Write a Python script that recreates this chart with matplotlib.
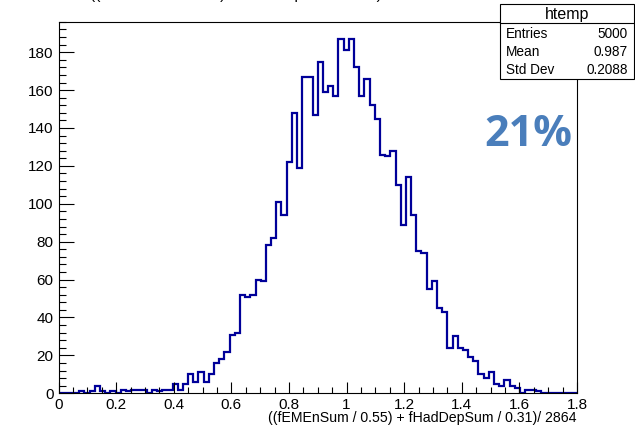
import numpy as np
import matplotlib
matplotlib.use("Agg")
import matplotlib.pyplot as plt
from matplotlib.ticker import MultipleLocator
from matplotlib.patches import Rectangle
from matplotlib.lines import Line2D

# ---- data (100 bins on [0, 1.8]) ----
x_min, x_max, n_bins = 0.0, 1.8, 100
counts = [
    0, 0, 0, 0, 1, 0, 1, 4, 1, 0,
    1, 0, 2, 1, 2, 2, 2, 0, 2, 1,
    2, 2, 5, 2, 5, 10, 6, 11, 6, 10,
    16, 18, 22, 31, 32, 52, 51, 52, 60, 59,
    78, 82, 101, 94, 122, 148, 119, 167, 167, 147,
    175, 159, 162, 157, 187, 181, 187, 172, 157, 166,
    152, 145, 126, 125, 128, 110, 89, 114, 94, 75,
    74, 55, 59, 45, 43, 24, 30, 24, 23, 19,
    17, 10, 8, 11, 5, 4, 7, 4, 3, 0,
    2, 2, 1, 0, 0, 0, 0, 0, 0, 0,
]
hist_name = "htemp"
stat_labels = ["Entries", "Mean", "Std Dev"]
stat_values = ["5000", "0.987", "0.2088"]
expr = "((fEMEnSum / 0.55) + fHadDepSum / 0.31)/ 2864"
annotation = "21%"

plt.rcParams['font.family'] = ['Liberation Sans', 'DejaVu Sans']

W, H = 635, 426
fig = plt.figure(figsize=(W / 100, H / 100), dpi=100)

def fx(px):
    return px / W

def fy(py):
    return 1 - py / H

left, right, top, bottom = 58.5, 577.0, 21.5, 393.3
ax = fig.add_axes([fx(left), fy(bottom), fx(right - left), (bottom - top) / H])

edges = np.linspace(x_min, x_max, n_bins + 1)
ax.stairs(counts, edges, color='#000099', linewidth=1.6, baseline=0)

ax.set_xlim(x_min, x_max)
ax.set_ylim(0, 196.2)
ax.xaxis.set_major_locator(MultipleLocator(0.2))
ax.xaxis.set_minor_locator(MultipleLocator(0.05))
ax.yaxis.set_major_locator(MultipleLocator(20))
ax.yaxis.set_minor_locator(MultipleLocator(4))
ax.xaxis.set_major_formatter(matplotlib.ticker.FuncFormatter(lambda v, p: f"{v:g}"))

ax.tick_params(axis='x', which='major', direction='in', length=8, width=0.8,
               labelsize=11, pad=3.5, top=False)
ax.tick_params(axis='x', which='minor', direction='in', length=4, width=0.8, top=False)
ax.tick_params(axis='y', which='major', direction='in', length=10.5, width=0.8,
               labelsize=11, pad=3.5, right=False)
ax.tick_params(axis='y', which='minor', direction='in', length=5, width=0.8, right=False)
for s in ax.spines.values():
    s.set_linewidth(0.8)
    s.set_color('black')

# x-axis title (right aligned, ROOT style)
fig.text(fx(577), fy(418), expr, ha='right', va='center', fontsize=10.2)

# cut-off histogram title at the very top (only its lower edge is visible)
fig.text(fx(90), fy(-0.5), expr, ha='left', va='baseline', fontsize=11)

# stats box
bx0, bx1, by0, by1 = 500, 634, 4.5, 79
fig.add_artist(Rectangle((fx(bx0), fy(by1)), fx(bx1 - bx0), (by1 - by0) / H,
                         transform=fig.transFigure, facecolor='white',
                         edgecolor='black', linewidth=0.8, zorder=5))
fig.add_artist(Line2D([fx(bx0), fx(bx1)], [fy(23.3), fy(23.3)],
                      transform=fig.transFigure, color='black', linewidth=0.8, zorder=6))
fig.text(fx((bx0 + bx1) / 2), fy(14), hist_name, ha='center', va='center',
         fontsize=11.5, zorder=7)
row_y = [34, 51.7, 69.5]
for lab, val, yy in zip(stat_labels, stat_values, row_y):
    fig.text(fx(506), fy(yy), lab, ha='left', va='center', fontsize=9.8, zorder=7)
    fig.text(fx(628), fy(yy), val, ha='right', va='center', fontsize=9.8, zorder=7)

# big annotation
fig.text(fx(528), fy(135), annotation, ha='center', va='center', fontsize=31,
         fontweight='bold', color='#4a7ebb', family=['Open Sans', 'DejaVu Sans'])

fig.savefig("out.png", dpi=100)
